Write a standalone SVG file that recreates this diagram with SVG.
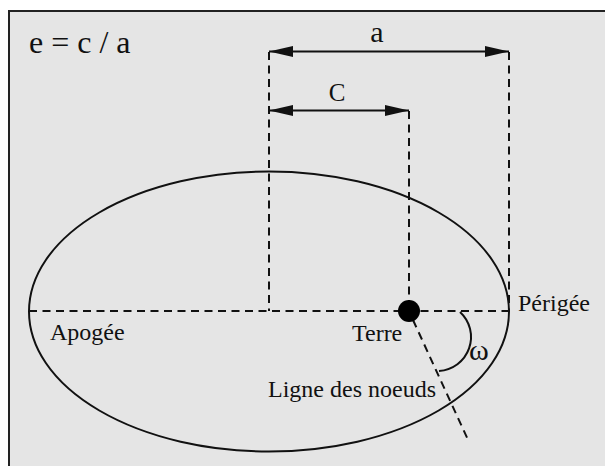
<svg xmlns="http://www.w3.org/2000/svg" width="605" height="466" viewBox="0 0 605 466">
<defs>
<style>
text{font-family:"Liberation Serif","Times New Roman",serif;fill:#111;font-size:24px}
.dash{fill:none;stroke:#111;stroke-width:2;stroke-dasharray:8 5.5}
.solid{fill:none;stroke:#111;stroke-width:2}
</style>
<marker id="ah" viewBox="0 0 24 11" refX="24" refY="5.5" markerWidth="24" markerHeight="11" markerUnits="userSpaceOnUse" orient="auto-start-reverse">
<path d="M0,0 L24,5.5 L0,11 Z" fill="#111"/>
</marker>
</defs>
<rect x="9" y="11" width="610" height="470" fill="#e5e5e5" stroke="#222" stroke-width="2"/>
<g id="orbit">
<ellipse class="solid" cx="269" cy="311.5" rx="240" ry="140"/>
</g>
<g id="connectors">
<line class="dash" x1="29" y1="311" x2="509" y2="311"/>
<line class="dash" x1="269" y1="52" x2="269" y2="311"/>
<line class="dash" x1="509" y1="52" x2="509" y2="311"/>
<line class="dash" x1="409" y1="111" x2="409" y2="305"/>
<line class="dash" x1="413" y1="320" x2="469" y2="442"/>
<line class="solid" x1="269" y1="51.5" x2="509" y2="51.5" marker-start="url(#ah)" marker-end="url(#ah)"/>
<line class="solid" x1="269" y1="110.5" x2="409" y2="110.5" marker-start="url(#ah)" marker-end="url(#ah)"/>
<path class="solid" d="M460,312 A34,34 0 0 1 439,371"/>
</g>
<g id="terre">
<circle cx="409" cy="311" r="11" fill="#000"/>
<text x="352" y="341">Terre</text>
</g>
<g id="formula"><text x="29" y="53" style="font-size:32px">e = c / a</text></g>
<g id="label-a"><text x="377" y="41.5" text-anchor="middle" style="font-size:30px">a</text></g>
<g id="label-c"><text x="337" y="101" text-anchor="middle" style="font-size:25px">C</text></g>
<g id="apogee"><text x="50" y="340">Apogée</text></g>
<g id="perigee"><text x="518" y="311">Périgée</text></g>
<g id="noeuds"><text x="268" y="397">Ligne des noeuds</text></g>
<g id="omega"><text x="469" y="359.5" style="font-size:30px">ω</text></g>
</svg>
